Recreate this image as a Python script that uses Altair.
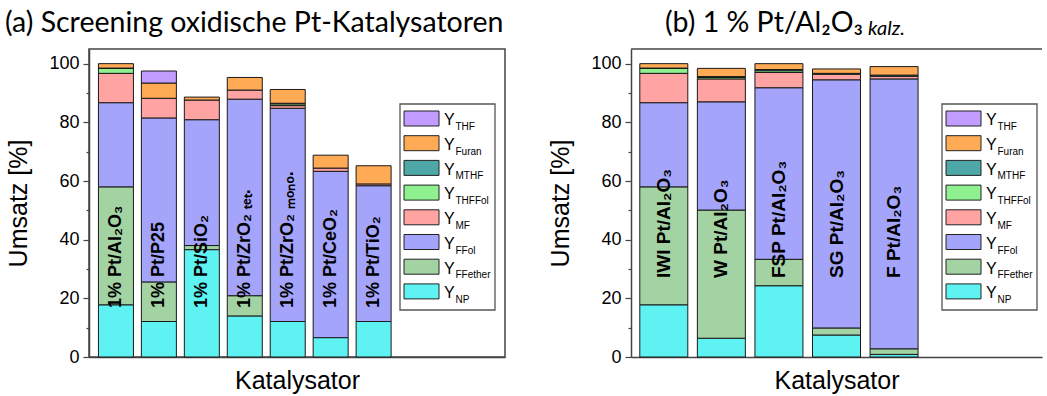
import altair as alt
import pandas as pd

# ---------------- data ----------------
components = ["NP", "FFether", "FFol", "MF", "THFFol", "MTHF", "Furan", "THF"]
comp_colors = ["#5ff2f2", "#a3d3a3", "#a4a4fb", "#ffa3a3", "#8ff08f", "#4fa8a8", "#ffab55", "#c39cff"]
legend_order = ["THF", "Furan", "MTHF", "THFFol", "MF", "FFol", "FFether", "NP"]

cats_a = ["1% Pt/Al₂O₃", "1% Pt/P25", "1% Pt/SiO₂", "1% Pt/ZrO₂ ₜₑₜ.",
          "1% Pt/ZrO₂ ₘₒₙₒ.", "1% Pt/CeO₂", "1% Pt/TiO₂"]
np_a = [17.8, 12.1, 36.6, 14.0, 12.1, 6.6, 12.1]
ffether_a = [40.2, 13.5, 1.4, 6.9, 0, 0, 0]
ffol_a = [28.7, 55.9, 42.9, 67.0, 72.7, 56.7, 46.3]
mf_a = [10.0, 6.7, 6.7, 3.1, 0.9, 1.1, 0.6]
thffol_a = [1.7, 0, 0, 0, 0.6, 0, 0]
mthf_a = [0.1, 0, 0, 0, 0.2, 0, 0]
furan_a = [1.5, 5.2, 1.0, 4.3, 4.7, 4.4, 6.2]
thf_a = [0, 4.1, 0, 0, 0, 0, 0]

cats_b = ["IWI Pt/Al₂O₃", "W Pt/Al₂O₃", "FSP Pt/Al₂O₃", "SG Pt/Al₂O₃", "F Pt/Al₂O₃"]
np_b = [17.8, 6.4, 24.3, 7.5, 0.9]
ffether_b = [40.2, 43.7, 9.0, 2.4, 1.9]
ffol_b = [28.7, 36.9, 58.5, 84.6, 92.0]
mf_b = [10.0, 7.8, 5.2, 1.9, 0.9]
thffol_b = [1.7, 0.5, 0.6, 0.2, 0]
mthf_b = [0.1, 0.3, 0.4, 0.1, 0.4]
furan_b = [1.5, 2.8, 2.0, 1.5, 2.9]
thf_b = [0, 0, 0, 0, 0]

y_ticks = [0, 10, 20, 30, 40, 50, 60, 70, 80, 90, 100]

title_a = "(a) Screening oxidische Pt-Katalysatoren"
title_b = "(b) 1 % Pt/Al₂O₃"
title_b_sub = "kalz."

FONT = "Liberation Sans"
TFONT = "Lato"
FRAME = "#444444"


def long_df(cats, series):
    rows = []
    for ci, cat in enumerate(cats):
        for k, comp in enumerate(components):
            v = series[k][ci]
            if v > 0:
                rows.append({"idx": ci + 1, "cat": cat, "comp": comp, "order": k, "value": v})
    return pd.DataFrame(rows)


df_a = long_df(cats_a, [np_a, ffether_a, ffol_a, mf_a, thffol_a, mthf_a, furan_a, thf_a])
df_b = long_df(cats_b, [np_b, ffether_b, ffol_b, mf_b, thffol_b, mthf_b, furan_b, thf_b])
lab_a = pd.DataFrame({"idx": list(range(1, len(cats_a) + 1)), "label": cats_a})
lab_b = pd.DataFrame({"idx": list(range(1, len(cats_b) + 1)), "label": cats_b})
leg_df = pd.DataFrame({"comp": legend_order, "rank": list(range(len(legend_order)))})
one = pd.DataFrame({"k": [0]})

color_scale = alt.Scale(domain=components, range=comp_colors)
leg_y = alt.Scale(domain=[0, 7], range=[69.5, 242.4])


def panel(df, labels, width, xdom, barsize, label_y, label_size, title, title_x, is_b):
    yaxis = alt.Axis(
        title="Umsatz [%]", values=y_ticks,
        labelExpr="datum.value % 20 === 0 ? datum.label : ''",
        tickSize={"condition": {"test": "datum.value % 20 === 0", "value": 6}, "value": 3},
        grid=False, labelFontSize=18, labelFont=FONT, labelColor="black", labelPadding=4,
        titleFontSize=25, titleFont=FONT, titleFontWeight="normal", titleColor="black",
        titlePadding=17, domainColor=FRAME, domainWidth=1.5, tickColor=FRAME, tickWidth=1.2,
    )
    xaxis = alt.Axis(
        title="Katalysator", labels=False, ticks=False, grid=False,
        titleFontSize=25, titleFont=FONT, titleFontWeight="normal", titleColor="black",
        titlePadding=11, domainColor=FRAME, domainWidth=1.5,
    )
    bars = alt.Chart(df).mark_bar(size=barsize, stroke="#1a1a1a", strokeWidth=1).encode(
        x=alt.X("idx:Q", scale=alt.Scale(domain=xdom, nice=False, zero=False), axis=xaxis),
        y=alt.Y("value:Q", stack="zero", scale=alt.Scale(domain=[0, 105], nice=False), axis=yaxis),
        color=alt.Color("comp:N", scale=color_scale, legend=None),
        order=alt.Order("order:Q"),
    )
    texts = alt.Chart(labels).mark_text(
        angle=270, align="left", baseline="middle", fontSize=label_size, fontWeight="bold",
        font=FONT, color="black",
    ).encode(x=alt.X("idx:Q"), y=alt.value(label_y), text="label:N")

    box = alt.Chart(one).mark_rect(
        fill="white", stroke="#555555", strokeWidth=1.3
    ).encode(x=alt.value(311), x2=alt.value(406), y=alt.value(55), y2=alt.value(261))
    sym = alt.Chart(leg_df).mark_point(
        shape="M-1,-0.4286L1,-0.4286L1,0.4286L-1,0.4286Z", size=1225, filled=True,
        stroke="#222222", strokeWidth=1, opacity=1,
    ).encode(
        x=alt.value(332.5),
        y=alt.Y("rank:Q", scale=leg_y, axis=None),
        color=alt.Color("comp:N", scale=color_scale, legend=None),
    )
    ytxt = alt.Chart(leg_df).mark_text(
        align="left", baseline="alphabetic", fontSize=16, font=FONT, color="black", dy=6.8
    ).encode(x=alt.value(355), y=alt.Y("rank:Q", scale=leg_y, axis=None), text=alt.value("Y"))
    sub = alt.Chart(leg_df).mark_text(
        align="left", baseline="alphabetic", fontSize=10, font=FONT, color="black", dy=11.5
    ).encode(x=alt.value(366.5), y=alt.Y("rank:Q", scale=leg_y, axis=None), text="comp:N")

    ttl = alt.Chart(one).mark_text(
        text=title, font=TFONT, fontSize=28.5, align="left", baseline="alphabetic", color="black",
    ).encode(x=alt.value(title_x), y=alt.value(-17))

    layers = [bars, texts, box, sym, ytxt, sub, ttl]
    if is_b:
        top = alt.Chart(one).mark_rule(color=FRAME, strokeWidth=1.5).encode(
            x=alt.value(0), x2=alt.value(width), y=alt.value(0)
        )
        kalz = alt.Chart(one).mark_text(
            text=title_b_sub, font=TFONT, fontStyle="italic", fontSize=20, align="left",
            baseline="alphabetic", color="black",
        ).encode(x=alt.value(title_x + 203), y=alt.value(-14))
        layers += [top, kalz]
    ch = alt.layer(*layers).resolve_scale(y="independent").properties(width=width, height=308)
    if is_b:
        ch = ch.properties(view=alt.ViewBackground(stroke="transparent"))
    return ch


pa = panel(df_a, lab_a, 416, [0.489, 9.943], 35, 259, 18, title_a, -84, False)
pb = panel(df_b, lab_b, 411, [0.517, 7.483], 48, 229, 19, title_b, 34, True)

chart = alt.hconcat(pa, pb, spacing=42).properties(
    padding={"left": 4, "top": 8, "right": 0, "bottom": 0}
).configure_view(stroke=FRAME, strokeWidth=1.5)

chart.save("out.html", embed_options={"renderer": "svg", "actions": False})
